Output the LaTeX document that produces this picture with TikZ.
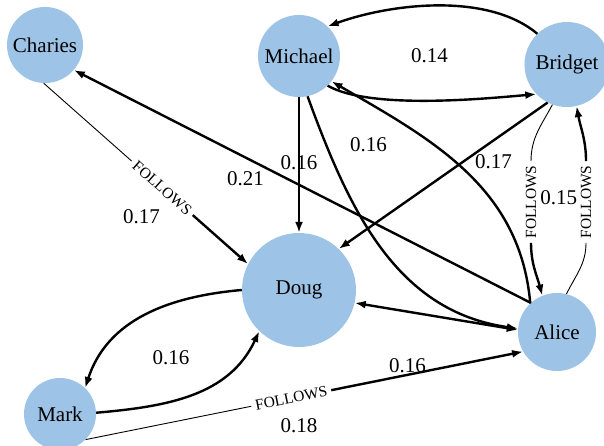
\documentclass[tikz,border=0pt]{standalone}
\usepackage{fontspec}
\setmainfont{Liberation Serif}
\usetikzlibrary{arrows.meta}
\definecolor{nodeblue}{RGB}{157,195,230}
\begin{document}
\begin{tikzpicture}[x=1pt,y=1pt,>={Latex[length=11pt,width=8pt]}]
\tikzstyle{every node}=[font=\fontsize{21}{25}\selectfont]
\tikzstyle{person}=[circle,fill=nodeblue,inner sep=0pt]
\tikzstyle{rel}=[font=\fontsize{15.5}{18}\selectfont,inner sep=4pt]
\tikzstyle{heavy}=[line width=2.4pt]
\tikzstyle{light}=[line width=0.9pt]
\useasboundingbox (0,0) rectangle (604,445);

\draw (45,400)  node (charies) [person,minimum size=76pt] {Charies};
\draw (299,389)  node (michael) [person,minimum size=82pt] {Michael};
\draw (567,380.5)  node (bridget) [person,minimum size=85pt] {Bridget};
\draw (299,155)  node (doug) [person,minimum size=114pt] {Doug};
\draw (557,113)  node (alice) [person,minimum size=78pt] {Alice};
\draw (60,31)  node (mark) [person,minimum size=72pt] {Mark};

% FOLLOWS edges, thin half then thick half
\path (charies.268) -- node[rel,sloped,pos=0.58] (f1) {FOLLOWS} (doug.153);
\draw [light] (charies.268) -- (f1);
\draw [heavy,->] (f1) -- (doug.153);
\path (mark.-45) -- node[rel,sloped,pos=0.47] (f2) {FOLLOWS} (alice.210);
\draw [light] (mark.-45) -- (f2);
\draw [heavy,->] (f2) -- (alice.210);
\draw (531,243)  node (f3) [rel,rotate=90] {FOLLOWS};
\draw (586,243)  node (f4) [rel,rotate=90] {FOLLOWS};
\draw [light] (bridget.250) to [out=242, in=90] (f3.east);
\draw [heavy,->] (f3.west) to [out=-90, in=105] (alice.112);
\draw [light] (alice.76) to [out=64, in=-90] (f4.west);
\draw [heavy,->] (f4.east) to [out=90, in=-80] (bridget.-77);

\draw [heavy,->] (bridget.134) to [out=140, in=20, looseness=0.8] (michael.46);
\draw [heavy,->] (michael.-46) to [out=-30, in=185, looseness=0.6] (bridget.224);
\draw [heavy,->] (michael) -- node[pos=0.48] (w3) {0.16} (doug);
\draw [heavy,->] (michael.-78) to [out=-70, in=172] (alice.175);
\draw [heavy,->] (alice.133) to [out=95, in=-30] (michael.-38);
\draw [heavy,->] (bridget.243) -- (doug.46);
\draw [heavy,->] (alice.132) -- (charies.-41);
\draw [heavy,<->] (doug.-13) -- (alice.177);
\draw [heavy,->] (doug.180) to [out=185, in=72] (mark.46);
\draw [heavy,->] (mark.2) to [out=5, in=245] (doug.226);

% weights
\draw (141.5,228)  node (w1) {0.17};
\draw (299,19)  node (w2) {0.18};
\draw (407.5,79.5)  node (w4) {0.16};
\draw (558.7,247.5)  node (w5) {0.15};
\draw (429.5,389.5)  node (w6) {0.14};
\draw (368.5,300)  node (w7) {0.16};
\draw (493.5,283.5)  node (w8) {0.17};
\draw (245.5,266.5)  node (w9) {0.21};
\draw (171,87.5)  node (w10) {0.16};
\end{tikzpicture}
\end{document}
